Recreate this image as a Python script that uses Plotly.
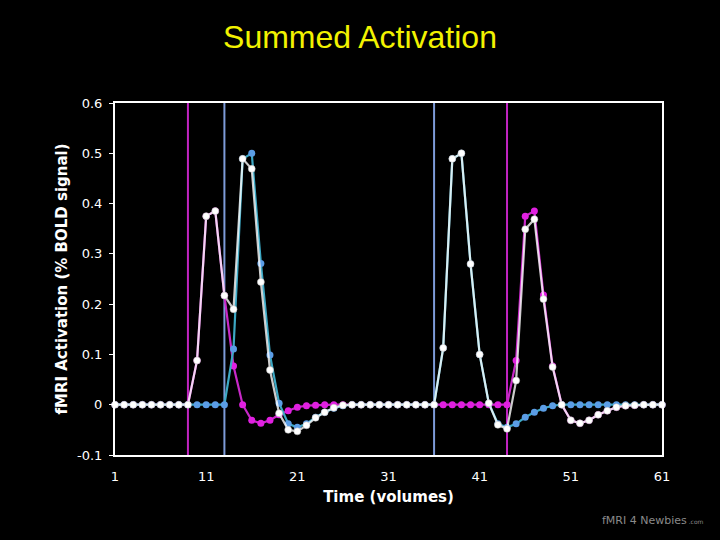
import plotly.graph_objects as go

# ---- data ----
volumes = list(range(1, 62))

first_event = [  # magenta series (response to events at 9 and 44)
    0, 0, 0, 0, 0, 0, 0, 0, 0,
    0.088, 0.375, 0.385, 0.217, 0.077, 0.0, -0.031, -0.037, -0.031, -0.020, -0.012,
    -0.005, -0.002, -0.001, 0, 0, 0, 0, 0, 0, 0,
    0, 0, 0, 0, 0, 0, 0, 0, 0, 0,
    0, 0, 0, 0,
    0.088, 0.375, 0.385, 0.218, 0.077, 0.0, -0.031, -0.037, -0.031, -0.020, -0.012,
    -0.005, -0.002, -0.001, 0, 0, 0,
]

second_event = [  # blue series (response to events at 13 and 36)
    0, 0, 0, 0, 0, 0, 0, 0, 0, 0, 0, 0, 0,
    0.111, 0.489, 0.500, 0.281, 0.099, 0.003, -0.038, -0.045, -0.038, -0.025, -0.015,
    -0.007, -0.002, 0, 0, 0, 0, 0, 0, 0, 0, 0, 0,
    0.113, 0.489, 0.500, 0.280, 0.100, 0.003, -0.038, -0.045, -0.038, -0.025, -0.015,
    -0.007, -0.002, 0, 0, 0, 0, 0, 0, 0, 0, 0, 0, 0, 0,
]

summed = [  # white series
    0, 0, 0, 0, 0, 0, 0, 0, 0,
    0.088, 0.375, 0.385, 0.217, 0.190, 0.489, 0.469, 0.244, 0.069, -0.017, -0.050,
    -0.053, -0.041, -0.026, -0.015, -0.006, -0.001, 0, 0, 0, 0,
    0, 0, 0, 0, 0, 0,
    0.113, 0.489, 0.500, 0.280, 0.100, 0.003, -0.040, -0.048,
    0.048, 0.349, 0.369, 0.210, 0.075, 0.0, -0.031, -0.037, -0.031, -0.020, -0.012,
    -0.005, -0.002, -0.001, 0, 0, 0,
]

magenta_onsets = [9, 44]
blue_onsets = [13, 36]

y_ticks = [-0.1, 0, 0.1, 0.2, 0.3, 0.4, 0.5, 0.6]
y_ticktext = ["-0.1", "0", "0.1", "0.2", "0.3", "0.4", "0.5", "0.6"]
x_ticks = [1, 11, 21, 31, 41, 51, 61]

# ---- figure ----
fig = go.Figure()

for v in magenta_onsets:
    fig.add_vline(x=v, line=dict(color="#c224c2", width=2), layer="below")
for v in blue_onsets:
    fig.add_vline(x=v, line=dict(color="#7d9bd8", width=2), layer="below")

fig.add_trace(go.Scatter(
    x=volumes, y=first_event, mode="lines+markers",
    line=dict(color="#c828c8", width=2.2),
    marker=dict(color="#e020e0", size=7),
    cliponaxis=False, showlegend=False))

fig.add_trace(go.Scatter(
    x=volumes, y=second_event, mode="lines+markers",
    line=dict(color="#3ca8c4", width=2.2),
    marker=dict(color="#5b9de6", size=7),
    cliponaxis=False, showlegend=False))

fig.add_trace(go.Scatter(
    x=volumes, y=summed, mode="lines+markers",
    line=dict(color="rgba(255,255,255,0.8)", width=2.2),
    marker=dict(color="#ffffff", size=7, line=dict(color="#bbbbbb", width=0.5)),
    cliponaxis=False, showlegend=False))

fig.update_layout(
    width=720, height=540,
    paper_bgcolor="black", plot_bgcolor="black",
    margin=dict(l=115, r=58, t=103, b=85, autoexpand=False),
    font=dict(family="DejaVu Sans", color="white", size=13),
    title=dict(text="Summed Activation", x=0.5, xref="container", xanchor="center",
               y=1 - 37 / 540, yref="container", yanchor="middle",
               font=dict(family="Liberation Sans", size=32, color="#f2f200")),
)

fig.update_xaxes(
    range=[1, 61], tickvals=x_ticks, showgrid=False, zeroline=False,
    showline=True, linecolor="white", linewidth=2, mirror=True,
    ticks="outside", ticklen=8, tickcolor="black",
    tickfont=dict(size=13, color="white"),
    title=dict(text="<b>Time (volumes)</b>", font=dict(size=15, color="white"), standoff=9),
)
fig.update_yaxes(
    range=[-0.1, 0.6], tickvals=y_ticks, ticktext=y_ticktext, showgrid=False, zeroline=False,
    showline=True, linecolor="white", linewidth=2, mirror=True,
    ticks="outside", ticklen=4, tickcolor="white", tickwidth=1, ticklabelstandoff=4,
    tickfont=dict(size=13, color="white"),
    title=dict(text="<b>fMRI Activation (% BOLD signal)</b>", font=dict(size=15, color="white"), standoff=6),
)

fig.add_annotation(
    text="fMRI 4 Newbies<span style='font-size:6px'> .com</span>", xref="paper", yref="paper",
    x=1.08, y=-0.185, xanchor="right", yanchor="middle", showarrow=False,
    font=dict(family="DejaVu Sans", size=11, color="#8a8a8a"))

fig.write_html(
    "out.html",
    config={"displayModeBar": False},
    post_script="document.body.style.margin='0';document.body.style.background='black';",
)
